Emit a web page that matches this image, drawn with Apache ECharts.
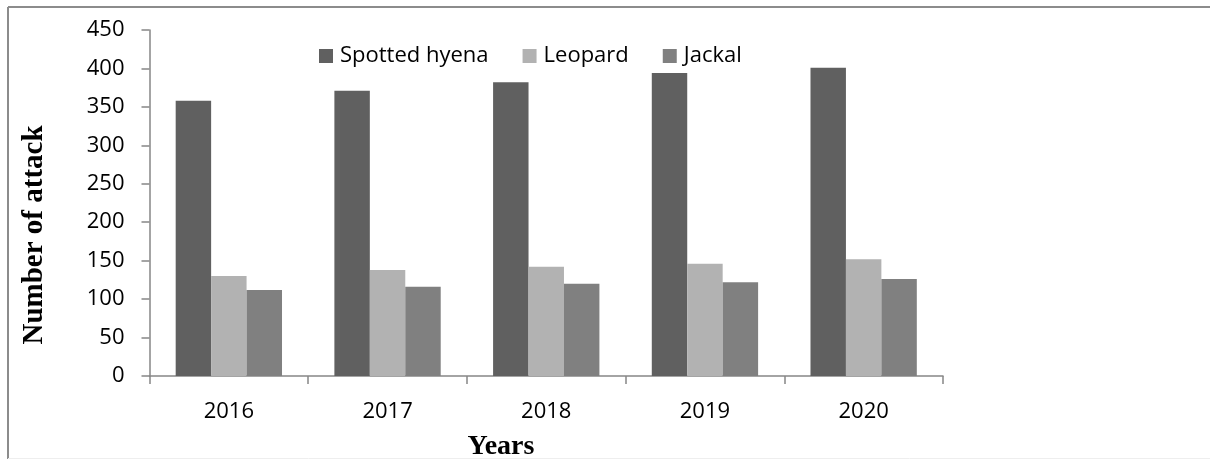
<!DOCTYPE html>
<html>
<head>
<meta charset="utf-8">
<script src="https://cdn.jsdelivr.net/npm/echarts@6/dist/echarts.min.js"></script>
<style>
  html, body { margin: 0; padding: 0; background: #ffffff; }
  #chart { width: 1210px; height: 459px; }
</style>
</head>
<body>
<div id="chart"></div>
<script>
// Yearly livestock attacks by predator
const years = ['2016', '2017', '2018', '2019', '2020'];
const spottedHyena = [358, 371, 382, 394, 401];
const leopard = [130, 138, 142, 146, 152];
const jackal = [112, 116, 120, 122, 126];
const seriesNames = ['Spotted hyena', 'Leopard', 'Jackal'];
const seriesColors = ['#606060', '#b2b2b2', '#808080'];

const chart = echarts.init(document.getElementById('chart'), null, { renderer: 'canvas' });

const axisGray = '#868686';
const labelFont = '"Open Sans", "Liberation Sans", sans-serif';
const titleFont = '"Liberation Serif", "Times New Roman", serif';

const seriesData = [spottedHyena, leopard, jackal];

chart.setOption({
  animation: false,
  backgroundColor: '#ffffff',
  grid: { left: 149.5, right: 267, top: 30, bottom: 83, containLabel: false },
  legend: {
    data: seriesNames,
    left: 319,
    top: 45,
    padding: 0,
    itemWidth: 14,
    itemHeight: 14,
    itemGap: 34,
    icon: 'rect',
    textStyle: { fontFamily: labelFont, fontSize: 22, color: '#000000', padding: [0, 0, 0, 2] }
  },
  xAxis: {
    type: 'category',
    data: years,
    axisLine: { lineStyle: { color: axisGray, width: 1.5 } },
    axisTick: { show: true, alignWithLabel: false, length: 8, lineStyle: { color: axisGray, width: 1.5 } },
    axisLabel: { fontFamily: labelFont, fontSize: 22, color: '#000000', margin: 25 },
    splitLine: { show: false }
  },
  yAxis: {
    type: 'value',
    min: 0,
    max: 450,
    interval: 50,
    axisLine: { show: true, lineStyle: { color: axisGray, width: 1.5 } },
    axisTick: { show: true, length: 8, lineStyle: { color: axisGray, width: 1.5 } },
    axisLabel: { fontFamily: labelFont, fontSize: 22, color: '#000000', margin: 25 },
    splitLine: { show: false }
  },
  series: seriesNames.map((name, i) => ({
    name: name,
    type: 'bar',
    data: seriesData[i],
    barGap: '0%',
    barCategoryGap: '33%',
    itemStyle: { color: seriesColors[i] }
  })),
  graphic: [
    // frame lines along top and left edges
    { type: 'line', shape: { x1: 8, y1: 7, x2: 1210, y2: 7 }, style: { stroke: '#8c8c8c', lineWidth: 2 } },
    { type: 'line', shape: { x1: 8, y1: 7, x2: 8, y2: 459 }, style: { stroke: '#8c8c8c', lineWidth: 2 } },
    { type: 'line', shape: { x1: 8, y1: 458.5, x2: 1210, y2: 458.5 }, style: { stroke: '#eeeeee', lineWidth: 1 } },
    {
      type: 'text',
      x: 35,
      y: 235,
      rotation: Math.PI / 2,
      style: {
        text: 'Number of attack',
        font: 'bold 29px ' + titleFont,
        fill: '#000000',
        align: 'center',
        verticalAlign: 'middle'
      }
    },
    {
      type: 'text',
      x: 501,
      y: 447,
      style: {
        text: 'Years',
        font: 'bold 28px ' + titleFont,
        fill: '#000000',
        align: 'center',
        verticalAlign: 'middle'
      }
    }
  ]
});
</script>
</body>
</html>
